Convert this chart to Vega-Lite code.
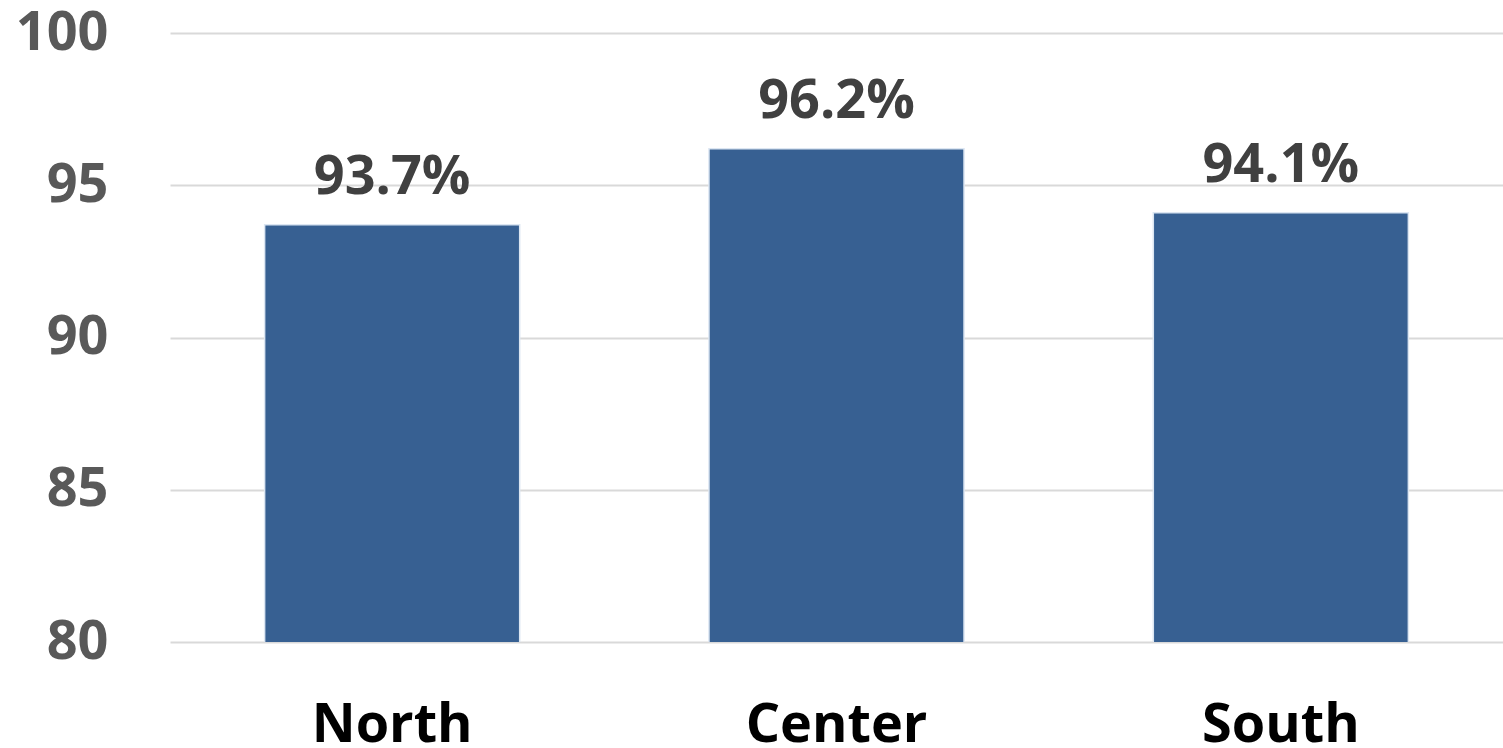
{
  "$schema": "https://vega.github.io/schema/vega-lite/v6.json",
  "width": 1333,
  "height": 609,
  "autosize": {"type": "none"},
  "padding": {"left": 170, "top": 33, "right": 0, "bottom": 106},
  "background": "white",
  "config": {"view": {"stroke": null}},
  "data": {
    "values": [
      {"region": "North", "value": 93.7, "label": "93.7%"},
      {"region": "Center", "value": 96.2, "label": "96.2%"},
      {"region": "South", "value": 94.1, "label": "94.1%"}
    ]
  },
  "encoding": {
    "x": {
      "field": "region",
      "type": "nominal",
      "sort": null,
      "scale": {"paddingInner": 0.426, "paddingOuter": 0.213},
      "axis": {
        "title": null,
        "domain": false,
        "ticks": false,
        "labelAngle": 0,
        "labelFont": "Open Sans",
        "labelFontWeight": "bold",
        "labelFontSize": 54,
        "labelColor": "#000000",
        "labelBaseline": "alphabetic",
        "labelPadding": 99,
        "labelLimit": 0
      }
    },
    "y": {
      "field": "value",
      "type": "quantitative",
      "scale": {"domain": [80, 100], "nice": false, "zero": false},
      "axis": {
        "title": null,
        "values": [80, 85, 90, 95, 100],
        "domain": false,
        "ticks": false,
        "grid": true,
        "gridColor": "#d9d9d9",
        "gridWidth": 2,
        "labelFont": "Open Sans",
        "labelFontWeight": "bold",
        "labelFontSize": 54,
        "labelColor": "#595959",
        "labelPadding": 62
      }
    }
  },
  "layer": [
    {
      "mark": {"type": "bar", "color": "#376092", "stroke": "#dce6f2", "strokeWidth": 1.5, "clip": true}
    },
    {
      "mark": {
        "type": "text",
        "font": "Open Sans",
        "fontWeight": "bold",
        "fontSize": 54,
        "color": "#404040",
        "baseline": "alphabetic",
        "dy": -31
      },
      "encoding": {"text": {"field": "label"}}
    }
  ]
}
